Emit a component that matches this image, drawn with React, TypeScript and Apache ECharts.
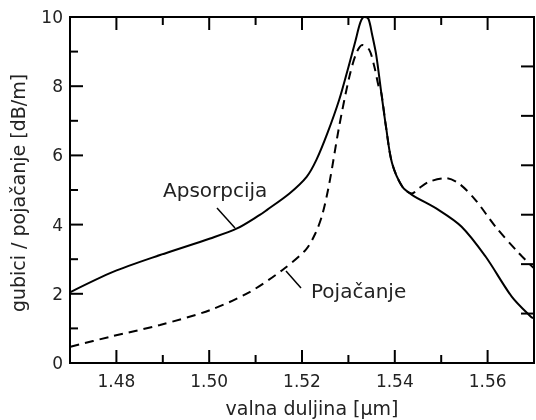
import React, { useEffect, useRef } from "react";
import * as echarts from "echarts";

// Wavelength (µm) and values (dB/m)
const apsX = [1.4701, 1.4794, 1.4894, 1.5002, 1.506, 1.5109, 1.5124, 1.5173, 1.521, 1.5231, 1.5255, 1.528, 1.53, 1.5315, 1.5326, 1.5334, 1.5343, 1.5351, 1.536, 1.5371, 1.5381, 1.5394, 1.5416, 1.5437, 1.5495, 1.5544, 1.5596, 1.5652, 1.5694, 1.5699];
const apsY = [2.05, 2.64, 3.12, 3.6, 3.89, 4.28, 4.42, 4.9, 5.38, 5.87, 6.65, 7.6, 8.55, 9.3, 9.85, 10.0, 9.95, 9.5, 8.9, 7.8, 6.83, 5.78, 5.1, 4.86, 4.42, 3.94, 3.07, 1.92, 1.33, 1.3];

const gainX = [1.4701, 1.4787, 1.4894, 1.5002, 1.5087, 1.5158, 1.5208, 1.5229, 1.5244, 1.5259, 1.528, 1.5302, 1.5317, 1.533, 1.5345, 1.5356, 1.5366, 1.5371, 1.5381, 1.5394, 1.5416, 1.5437, 1.5452, 1.5474, 1.551, 1.5538, 1.5574, 1.5617, 1.5667, 1.5699];
const gainY = [0.47, 0.76, 1.1, 1.53, 2.05, 2.69, 3.27, 3.75, 4.3, 5.2, 6.83, 8.27, 8.95, 9.19, 9.05, 8.56, 7.95, 7.8, 6.83, 5.78, 5.1, 4.9, 5.05, 5.24, 5.34, 5.19, 4.71, 3.94, 3.18, 2.75];

// Tick values
const xMajorTicks = [1.48, 1.5, 1.52, 1.54, 1.56];
const xMinorTicks = [1.49, 1.51, 1.53, 1.55];
const yMajorTicks = [2, 4, 6, 8];
const yMinorTicks = [1, 3, 5, 7, 9];
const rightTicks = [1, 2, 3, 4, 5, 6];

const seriesNames = ["Apsorpcija", "Pojačanje"];
const xTitle = "valna duljina [µm]";
const yTitle = "gubici / pojačanje [dB/m]";

const X_MIN = 1.47;
const X_MAX = 1.57;
const Y_MIN = 0;
const Y_MAX = 10;

const FONT = "DejaVu Sans";
const INK = "#000";
const TXT = "#222";
const MAJOR = 13;
const MINOR = 8;

function xTickSeries(values: number[], len: number) {
  return {
    type: "custom",
    coordinateSystem: "cartesian2d",
    xAxisIndex: 0,
    yAxisIndex: 0,
    encode: { x: 0, y: 1 },
    data: values.map((v) => [v, Y_MIN]),
    renderItem: (_p: any, api: any) => {
      const v = api.value(0);
      const b = api.coord([v, Y_MIN]);
      const t = api.coord([v, Y_MAX]);
      const st = { stroke: INK, lineWidth: 2 };
      return {
        type: "group",
        children: [
          { type: "line", shape: { x1: b[0], y1: b[1], x2: b[0], y2: b[1] - len }, style: st },
          { type: "line", shape: { x1: t[0], y1: t[1], x2: t[0], y2: t[1] + len }, style: st },
        ],
      };
    },
  };
}

function yTickSeries(values: number[], len: number, yIndex: number, atX: number, dir: number) {
  return {
    type: "custom",
    coordinateSystem: "cartesian2d",
    xAxisIndex: 0,
    yAxisIndex: yIndex,
    encode: { x: 0, y: 1 },
    data: values.map((v) => [atX, v]),
    renderItem: (_p: any, api: any) => {
      const p = api.coord([api.value(0), api.value(1)]);
      return {
        type: "line",
        shape: { x1: p[0], y1: p[1], x2: p[0] + dir * len, y2: p[1] },
        style: { stroke: INK, lineWidth: 2 },
      };
    },
  };
}

export default function App() {
  const ref = useRef<HTMLDivElement>(null);
  useEffect(() => {
    if (!ref.current) return;
    const chart = echarts.init(ref.current, null, { renderer: "svg" });
    const option: any = {
      animation: false,
      grid: {
        left: 70,
        right: 2,
        top: 17,
        bottom: 57,
        show: true,
        borderColor: INK,
        borderWidth: 2,
      },
      xAxis: [
        {
          type: "value",
          min: X_MIN,
          max: X_MAX,
          interval: 0.01,
          splitLine: { show: false },
          axisLine: { show: false },
          axisTick: { show: false },
          axisLabel: {
            show: true,
            showMinLabel: false,
            showMaxLabel: false,
            formatter: (v: number) =>
              xMajorTicks.some((t) => Math.abs(t - v) < 1e-6) ? v.toFixed(2) : "",
            margin: 9,
            fontFamily: FONT,
            fontSize: 17,
            color: TXT,
          },
        },
      ],
      yAxis: [
        {
          type: "value",
          min: Y_MIN,
          max: Y_MAX,
          interval: 2,
          splitLine: { show: false },
          axisLine: { show: false },
          axisTick: { show: false },
          axisLabel: { margin: 7, fontFamily: FONT, fontSize: 17, color: TXT },
        },
        {
          type: "value",
          min: 0,
          max: 7,
          interval: 1,
          position: "right",
          splitLine: { show: false },
          axisLine: { show: false },
          axisTick: { show: false },
          axisLabel: { show: false },
        },
      ],
      series: [
        {
          name: seriesNames[0],
          type: "line",
          xAxisIndex: 0,
          yAxisIndex: 0,
          data: apsX.map((x, i) => [x, apsY[i]]),
          smooth: 0.3,
          symbol: "none",
          lineStyle: { color: INK, width: 2 },
        },
        {
          name: seriesNames[1],
          type: "line",
          xAxisIndex: 0,
          yAxisIndex: 0,
          data: gainX.map((x, i) => [x, gainY[i]]),
          smooth: 0.3,
          symbol: "none",
          lineStyle: { color: INK, width: 2, type: [9, 6] },
        },
        xTickSeries(xMajorTicks, MAJOR),
        xTickSeries(xMinorTicks, MINOR),
        yTickSeries(yMajorTicks, MAJOR, 0, X_MIN, 1),
        yTickSeries(yMinorTicks, MINOR, 0, X_MIN, 1),
        yTickSeries(rightTicks, MAJOR, 1, X_MAX, -1),
      ],
      graphic: [
        {
          type: "text",
          left: 163,
          top: 180,
          style: { text: seriesNames[0], font: `20px "${FONT}"`, fill: TXT },
        },
        {
          type: "line",
          shape: { x1: 217, y1: 208, x2: 235, y2: 228 },
          style: { stroke: INK, lineWidth: 1.5 },
        },
        {
          type: "text",
          left: 311,
          top: 281,
          style: { text: seriesNames[1], font: `20px "${FONT}"`, fill: TXT },
        },
        {
          type: "line",
          shape: { x1: 286, y1: 271, x2: 301, y2: 288 },
          style: { stroke: INK, lineWidth: 1.5 },
        },
        {
          type: "text",
          x: 312,
          y: 408,
          style: { text: xTitle, font: `19px "${FONT}"`, fill: TXT, align: "center", verticalAlign: "middle" },
        },
        {
          type: "text",
          x: 18,
          y: 193,
          rotation: Math.PI / 2,
          style: { text: yTitle, font: `19px "${FONT}"`, fill: TXT, align: "center", verticalAlign: "middle" },
        },
      ],
    };
    chart.setOption(option);
    return () => chart.dispose();
  }, []);
  return (
    <div
      ref={ref}
      style={{ position: "fixed", left: 0, top: 0, width: 536, height: 420 }}
    />
  );
}
